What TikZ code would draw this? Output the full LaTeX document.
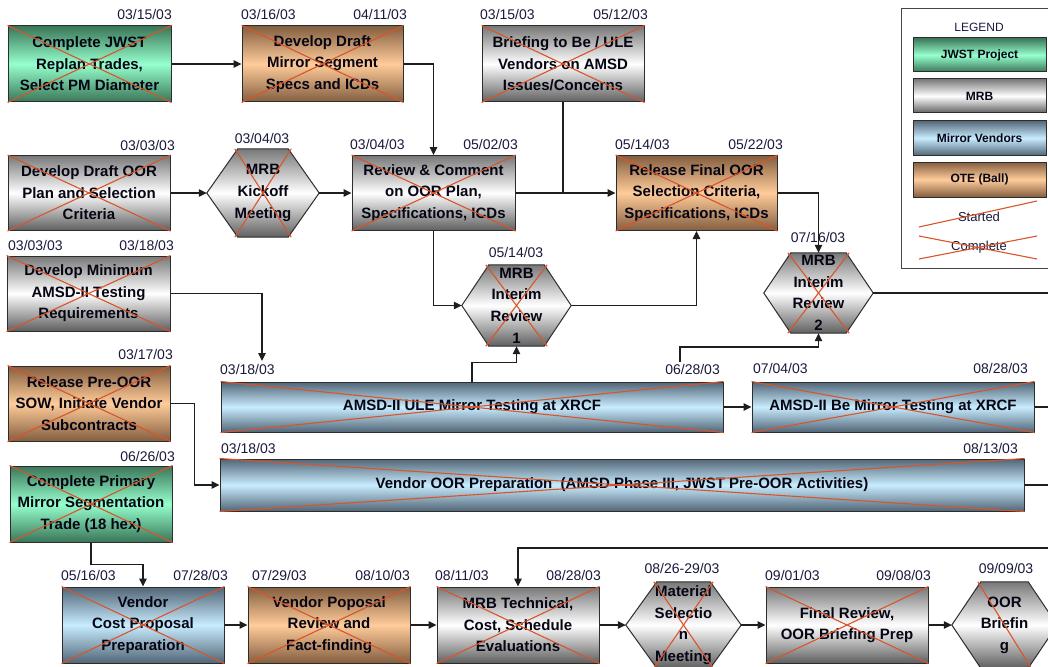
\documentclass[tikz,border=0pt]{standalone}
\usepackage{fontspec}
\setmainfont{Liberation Sans}
\usetikzlibrary{arrows.meta,calc,backgrounds}

\definecolor{gdark}{RGB}{58,118,88}
\definecolor{glight}{RGB}{150,255,205}
\definecolor{mtop}{RGB}{120,120,120}
\definecolor{mbot}{RGB}{95,95,95}
\definecolor{bdark}{RGB}{82,102,118}
\definecolor{blight}{RGB}{200,236,255}
\definecolor{odark}{RGB}{132,94,64}
\definecolor{olight}{RGB}{255,204,154}
\definecolor{xcol}{RGB}{218,84,42}
\definecolor{datecol}{RGB}{25,25,60}
\definecolor{linecol}{RGB}{30,30,30}
\definecolor{edgecol}{RGB}{45,45,45}
\definecolor{txtcol}{RGB}{5,5,20}
\definecolor{frame}{RGB}{70,70,70}

\newcommand\boxfont{\fontsize{15}{21.6}\selectfont\bfseries}
\newcommand\datefont{\fontsize{14}{16}\selectfont}
\newcommand\legfont{\fontsize{12}{14}\selectfont\bfseries}

\tikzset{
  boxbase/.style={draw=edgecol, line width=1pt, inner sep=0pt, align=center,
    font=\boxfont, text=txtcol},
  gbox/.style={boxbase, top color=gdark, bottom color=gdark, middle color=glight},
  mbox/.style={boxbase, top color=mtop, bottom color=mbot, middle color=white},
  bbox/.style={boxbase, top color=bdark, bottom color=bdark, middle color=blight},
  obox/.style={boxbase, top color=odark, bottom color=odark, middle color=olight},
  sz/.style 2 args={minimum width=#1, minimum height=#2},
  hexnode/.style={inner sep=0pt, align=center, font=\boxfont, text=txtcol},
  hexfill/.style={draw=edgecol, line width=1pt, top color=mtop, bottom color=mbot, middle color=white},
  xline/.style={draw=xcol, line width=1.1pt},
  conn/.style={draw=linecol, line width=1.1pt, -{Triangle[length=8pt,width=7.5pt]}},
  plain/.style={draw=linecol, line width=1.1pt},
  datel/.style={font=\datefont, text=datecol, inner sep=0pt},
}

\newcommand\hexbg[2]{%
  \begin{pgfonlayer}{background}
    \shade[hexfill] (#1.west) -- ([xshift=#2]#1.north west) -- ([xshift=-#2]#1.north east)
      -- (#1.east) -- ([xshift=-#2]#1.south east) -- ([xshift=#2]#1.south west) -- cycle;
  \end{pgfonlayer}}
\newcommand\hexcross[2]{%
  \draw[xline] ([xshift=#2-3pt]#1.north west) -- ([xshift=-#2+3pt]#1.south east);
  \draw[xline] ([xshift=-#2+3pt]#1.north east) -- ([xshift=#2-3pt]#1.south west);}
\newcommand\boxcross[1]{%
  \draw[xline] (#1.north west) -- (#1.south east);
  \draw[xline] (#1.south west) -- (#1.north east);}

\begin{document}
\begin{tikzpicture}[x=1pt,y=-1pt]
\useasboundingbox (0,0) rectangle (1048,666);

% ---------- boxes ----------
\node[gbox, sz={163}{76}] (n1) at (89.5,64) {Complete JWST\\Replan Trades,\\Select PM Diameter};
\node[obox, sz={161}{76}] (n2) at (322.5,64) {Develop Draft\\Mirror Segment\\Specs and ICDs};
\node[mbox, sz={162}{76}] (n3) at (563,64) {Briefing to Be / ULE\\Vendors on AMSD\\Issues/Concerns};
\node[mbox, sz={162}{75}] (n4) at (89,193) {Develop Draft OOR\\Plan and Selection\\Criteria};
\node[hexnode, sz={112}{88}] (hk) at (263,193) {MRB\\Kickoff\\Meeting};
\node[mbox, sz={163}{75}] (n6) at (433.5,193) {Review \& Comment\\on OOR Plan,\\Specifications, ICDs};
\node[obox, sz={161}{75}] (n7) at (696.5,193) {Release Final OOR\\Selection Criteria,\\Specifications, ICDs};
\node[mbox, sz={163}{75}] (n8) at (88.5,293.5) {Develop Minimum\\AMSD-II Testing\\Requirements};
\node[obox, sz={162}{75}] (n9) at (89,403.5) {Release Pre-OOR\\SOW, Initiate Vendor\\Subcontracts};
\node[gbox, sz={162}{76}] (n10) at (91,504) {Complete Primary\\Mirror Segmentation\\Trade (18 hex)};
\node[hexnode, sz={109}{81}] (h1) at (516.5,305.5) {MRB\\Interim\\Review\\1};
\node[hexnode, sz={109}{80}] (h2) at (818.5,293) {MRB\\Interim\\Review\\2};
\node[bbox, sz={502}{50}] (ule) at (472,407) {AMSD-II ULE Mirror Testing at XRCF};
\node[bbox, sz={282}{50}] (be) at (893,407) {AMSD-II Be Mirror Testing at XRCF};
\node[bbox, sz={804}{52}] (vop) at (622,485) {Vendor OOR Preparation\ \ (AMSD Phase III, JWST Pre-OOR Activities)};
\node[bbox, sz={162}{76}] (n16) at (143,625) {Vendor\\Cost Proposal\\Preparation};
\node[obox, sz={162}{76}] (n17) at (329,625) {Vendor Poposal\\Review and\\Fact-finding};
\node[mbox, sz={162}{76}] (n18) at (518,625) {MRB Technical,\\Cost, Schedule\\Evaluations};
\node[hexnode, sz={115}{86}] (hm) at (683.5,625) {Material\\Selectio\\n\\Meeting};
\node[mbox, sz={162}{76}] (n20) at (847,625) {Final Review,\\OOR Briefing Prep};
\node[hexnode, sz={105}{86}] (hb) at (1004.5,625) {OOR\\Briefin\\g};

\hexbg{hk}{31pt}
\hexbg{h1}{27pt}
\hexbg{h2}{27pt}
\hexbg{hm}{31pt}
\hexbg{hb}{29pt}

% ---------- crosses ----------
\boxcross{n1}\boxcross{n2}\boxcross{n3}\boxcross{n4}\boxcross{n6}\boxcross{n7}
\boxcross{n8}\boxcross{n9}\boxcross{n10}\boxcross{ule}\boxcross{be}\boxcross{vop}
\boxcross{n16}\boxcross{n17}\boxcross{n18}\boxcross{n20}
\hexcross{hk}{31pt}
\hexcross{h1}{27pt}
\hexcross{h2}{27pt}
\hexcross{hm}{31pt}
\draw[xline] ([xshift=26pt]hb.north west) -- ([xshift=-26pt]hb.south east);

% ---------- dates ----------
\node[datel, anchor=base east] (d1) at (172,20) {03/15/03};
\node[datel, anchor=base west] (d2) at (241,20) {03/16/03};
\node[datel, anchor=base east] (d3) at (407,20) {04/11/03};
\node[datel, anchor=base west] (d4) at (480,20) {03/15/03};
\node[datel, anchor=base east] (d5) at (648,20) {05/12/03};
\node[datel, anchor=base east] (d6) at (175,150) {03/03/03};
\node[datel, anchor=base] (d7) at (262,143) {03/04/03};
\node[datel, anchor=base west] (d8) at (350,149) {03/04/03};
\node[datel, anchor=base east] (d9) at (518,149) {05/02/03};
\node[datel, anchor=base west] (d10) at (615,149) {05/14/03};
\node[datel, anchor=base east] (d11) at (783,149) {05/22/03};
\node[datel, anchor=base west] (d12) at (8,250) {03/03/03};
\node[datel, anchor=base east] (d13) at (174,250) {03/18/03};
\node[datel, anchor=base east] (d14) at (173,359) {03/17/03};
\node[datel, anchor=base east] (d15) at (175,461) {06/26/03};
\node[datel, anchor=base] (d16) at (516,257) {05/14/03};
\node[datel, anchor=base] (d17) at (818,242) {07/16/03};
\node[datel, anchor=base west] (d18) at (220,374) {03/18/03};
\node[datel, anchor=base east] (d19) at (720,374) {06/28/03};
\node[datel, anchor=base west] (d20) at (753,373) {07/04/03};
\node[datel, anchor=base east] (d21) at (1028,373) {08/28/03};
\node[datel, anchor=base west] (d22) at (221,453) {03/18/03};
\node[datel, anchor=base east] (d23) at (1018,453) {08/13/03};
\node[datel, anchor=base west] (d24) at (61,580) {05/16/03};
\node[datel, anchor=base east] (d25) at (228,580) {07/28/03};
\node[datel, anchor=base west] (d26) at (252,580) {07/29/03};
\node[datel, anchor=base east] (d27) at (410,580) {08/10/03};
\node[datel, anchor=base west] (d28) at (435,580) {08/11/03};
\node[datel, anchor=base east] (d29) at (601,580) {08/28/03};
\node[datel, anchor=base] (d30) at (682,573) {08/26-29/03};
\node[datel, anchor=base west] (d31) at (765,580) {09/01/03};
\node[datel, anchor=base east] (d32) at (931,580) {09/08/03};
\node[datel, anchor=base] (d33) at (1006,573) {09/09/03};

% ---------- connectors ----------
\coordinate (re) at (1050,0);
\coordinate (cj) at (262,361);
\coordinate (cl) at (680,362);
\coordinate (fb) at (1050,548);

\draw[conn] (n1.east) -- (n2.west);
\draw[conn] (n2.east) -| (n6.north);
\draw[conn] (n4.east) -- (hk.west);
\draw[conn] (hk.east) -- (n6.west);
\draw[conn] (n6.east) -- (n7.west);
\draw[plain] (n3.south) -- (n3.south |- n6.east);
\draw[conn] (n6.south) |- (h1.west);
\draw[conn] (h1.east) -| (n7.south);
\draw[conn] (n7.east) -| (h2.north);
\draw[conn] (n8.east) -| (cj);
\draw[conn] (ule.north) -- ++(0,-19) -| (h1.south);
\draw[conn] (cl) -- ++(0,-15) -| (h2.south);
\draw[conn] (ule.east) -- (be.west);
\draw[conn] (n9.east) -- ++(24,0) |- (vop.west);
\draw[plain] (be.east) -- (be.east -| re);
\draw[plain] (vop.east) -- (vop.east -| re);
\draw[plain] (h2.east) -- (h2.east -| re);
\draw[conn] (fb) -| (n18.north);
\draw[conn] (n10.south) -- ++(0,22) -| (n16.north);
\draw[conn] (n16.east) -- (n17.west);
\draw[conn] (n17.east) -- (n18.west);
\draw[conn] (n18.east) -- (hm.west);
\draw[conn] (hm.east) -- (n20.west);
\draw[conn] (n20.east) -- (hb.west);

% ---------- legend ----------
\draw[draw=frame, line width=1pt] (901,9) rectangle (1060,268);
\node[font=\fontsize{12}{14}\selectfont, text=datecol] (lgt) at (979,27) {LEGEND};
\node[gbox, sz={133}{34}, font=\legfont] (lg1) at (979.5,55) {JWST Project};
\node[mbox, sz={133}{34}, font=\legfont] (lg2) at (979.5,96) {MRB};
\node[bbox, sz={133}{35}, font=\legfont] (lg3) at (979.5,138) {Mirror Vendors};
\node[obox, sz={133}{35}, font=\legfont] (lg4) at (979.5,179.5) {OTE (Ball)};
\node[font=\fontsize{13}{15}\selectfont, text=datecol] (ls) at (979,217) {Started};
\node[font=\fontsize{13}{15}\selectfont, text=datecol] (lc) at (979,247) {Complete};
\draw[xline] ($(ls.center)+(-60,10)$) -- ($(ls.center)+(58,-16)$);
\draw[xline] ($(lc.center)+(-60,-11)$) -- ($(lc.center)+(58,12)$);
\draw[xline] ($(lc.center)+(-60,12)$) -- ($(lc.center)+(58,-11)$);
\end{tikzpicture}
\end{document}
